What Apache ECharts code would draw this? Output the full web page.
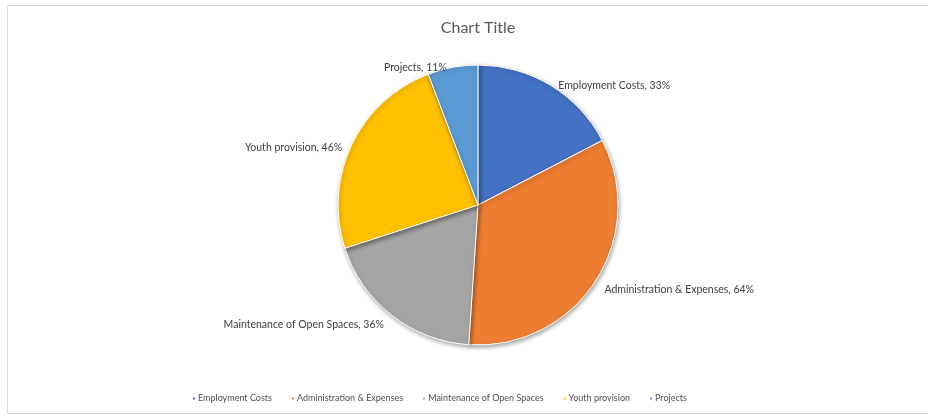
<!DOCTYPE html>
<html>
<head>
<meta charset="utf-8">
<script src="https://cdn.jsdelivr.net/npm/echarts@6/dist/echarts.min.js"></script>
<style>
  html, body { margin: 0; padding: 0; background: #fff; }
  #main { width: 928px; height: 416px; }
</style>
</head>
<body>
<div id="main"></div>
<script>
// categories and values (shown as percentages in the labels)
var categories = ['Employment Costs', 'Administration & Expenses', 'Maintenance of Open Spaces', 'Youth provision', 'Projects'];
var values = [33, 64, 36, 46, 11];
var colors = ['#4472C4', '#ED7D31', '#A5A5A5', '#FFC000', '#5B9BD5'];

var myChart = echarts.init(document.getElementById('main'));

var pieData = [];
for (var i = 0; i < categories.length; i++) {
  pieData.push({ name: categories[i], value: values[i] });
}

var option = {
  color: colors,
  textStyle: { fontFamily: 'Lato' },
  title: {
    text: 'Chart Title',
    left: 473,
    textAlign: 'center',
    top: 15,
    textStyle: { fontSize: 16, fontWeight: 'normal', color: '#595959', fontFamily: 'Lato' }
  },
  graphic: [{
    type: 'rect',
    shape: { x: 7.5, y: 5.5, width: 940, height: 408 },
    style: { fill: 'none', stroke: '#d9d9d9', lineWidth: 1 },
    silent: true,
    z: -1
  }],
  legend: {
    bottom: 8,
    left: 186,
    itemWidth: 4,
    itemHeight: 4,
    itemGap: 18,
    icon: 'rect',
    textStyle: { fontSize: 9, color: '#505050', padding: [0, 0, 0, -3] },
    data: categories
  },
  series: [{
    type: 'pie',
    center: [478, 205],
    radius: 140,
    startAngle: 90,
    clockwise: true,
    data: pieData,
    itemStyle: {
      borderColor: '#ffffff',
      borderWidth: 1,
      shadowColor: 'rgba(0,0,0,0.35)',
      shadowBlur: 4,
      shadowOffsetX: 1,
      shadowOffsetY: 2
    },
    label: {
      show: true,
      position: 'outside',
      formatter: '{b}, {c}%',
      fontSize: 10.5,
      color: '#404040'
    },
    labelLine: { show: false, length: 5, length2: 0 },
    labelLayout: function () {
      return { dy: 5 };
    },
    emphasis: { disabled: true }
  }]
};
myChart.setOption(option);
</script>
</body>
</html>
